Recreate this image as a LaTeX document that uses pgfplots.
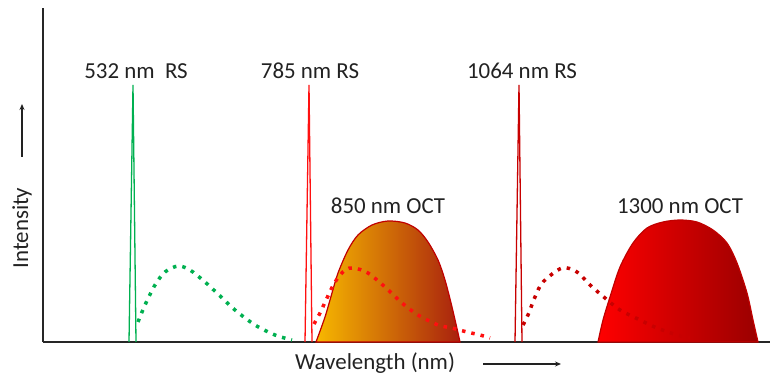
\documentclass[border=0pt]{standalone}
\usepackage{fontspec}
\setmainfont{Carlito}
\usepackage{pgfplots}
\pgfplotsset{compat=1.18}
\usetikzlibrary{arrows.meta}
\definecolor{lgreen}{HTML}{00B050}
\definecolor{lred}{HTML}{FF1010}
\definecolor{dred}{HTML}{C80000}
\definecolor{edge}{HTML}{C00000}
\definecolor{goldL}{HTML}{F7B800}
\definecolor{brownR}{HTML}{A8200E}
\definecolor{redL}{HTML}{FF0000}
\definecolor{redR}{HTML}{9A0000}
\definecolor{txt}{HTML}{222222}
\begin{document}
\begin{tikzpicture}
\useasboundingbox (0,0) rectangle (770bp,384bp);
\begin{axis}[at={(43bp,42bp)}, anchor=south west, scale only axis,
  width=727bp, height=334bp, xmin=43, xmax=770, ymin=0, ymax=334,
  axis lines*=left, ticks=none, axis line style={line width=1.6bp, black!85},
  clip=false, font=\fontsize{23}{27}\selectfont]
% OCT humps
\addplot[draw=edge, line width=1.2bp, left color=goldL, right color=brownR, smooth, tension=0.5]
  coordinates {(316,0) (325,25) (332,49) (338,69) (348,92) (358,107) (372,117) (388,121) (405,119) (418,112) (428,100) (438,82) (445,62) (452,35) (458,9) (460,0)} \closedcycle;
\addplot[draw=edge, line width=1.2bp, left color=redL, right color=redR, smooth, tension=0.5]
  coordinates {(598,0) (603,22) (610,45) (620,75) (633,99) (647,114) (663,120) (680,122) (697,120) (713,112) (727,99) (737,79) (747,49) (753,22) (758,0)} \closedcycle;
% laser lines
\addplot[lgreen, line width=1.3bp] coordinates {(129,0) (133,257) (136,0)};
\addplot[lred, line width=1.3bp] coordinates {(305,0) (309,257) (312,0)};
\addplot[dred, line width=1.3bp] coordinates {(515,0) (519,257) (522,0)};
% dotted curves
\addplot[lgreen, line width=3.5bp, dash pattern=on 3.5bp off 6bp, smooth]
  coordinates {(138,20) (145,37) (155,57) (165,70) (178,76) (190,72) (205,60) (218,48) (235,32) (255,17) (275,7) (292,2)};
\addplot[lred, line width=3.5bp, dash pattern=on 3.5bp off 6bp, smooth]
  coordinates {(314,18) (320,29) (327,44) (335,60) (345,72) (354,74) (368,69) (385,55) (402,39) (418,27) (438,17) (452,14) (467,10) (480,7) (490,4)};
\addplot[dred, line width=3.5bp, dash pattern=on 3.5bp off 6bp, smooth]
  coordinates {(523,17) (528,27) (535,45) (543,60) (562,74) (577,70) (590,57) (605,44) (620,32) (640,22) (657,14) (677,7) (690,4)};
% labels
\node[text=txt] at (axis cs:136,271) {532 nm\ \ RS};
\node[text=txt] at (axis cs:310,271) {785 nm RS};
\node[text=txt] at (axis cs:522,271) {1064 nm RS};
\node[text=txt] at (axis cs:388,136) {850 nm OCT};
\node[text=txt] at (axis cs:680,136) {1300 nm OCT};
\node[rotate=90, text=txt] at (axis cs:22,114) {Intensity};
\draw[txt, -{Stealth[length=6bp,width=5bp]}, line width=1.2bp] (axis cs:22,185) -- (axis cs:22,238);
\node[text=txt] at (axis cs:375,-21) {Wavelength (nm)};
\draw[txt, -{Stealth[length=6bp,width=5bp]}, line width=1.2bp] (axis cs:483,-22) -- (axis cs:561,-22);
\end{axis}
\end{tikzpicture}
\end{document}
